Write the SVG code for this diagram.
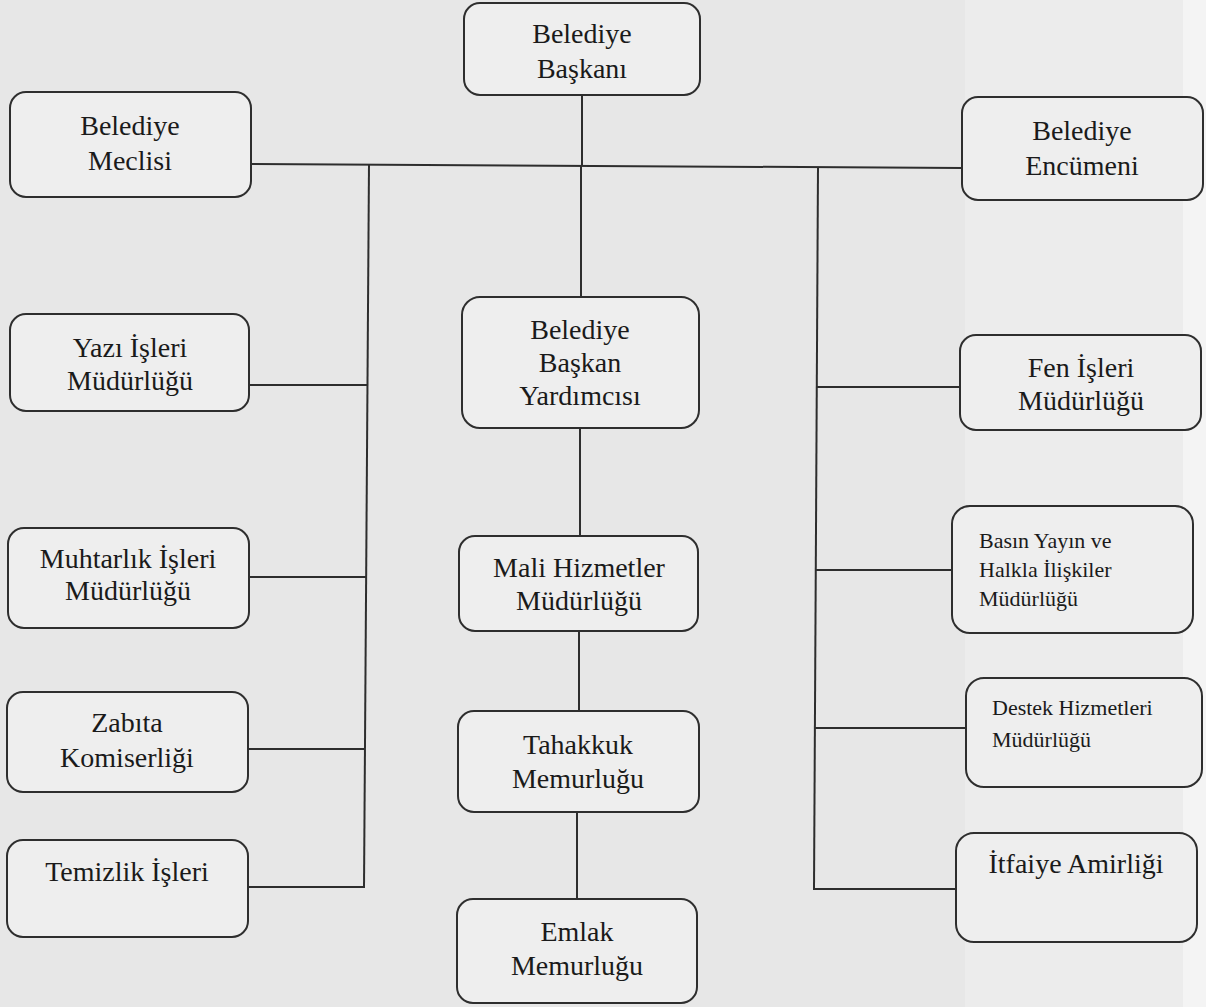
<svg xmlns="http://www.w3.org/2000/svg" width="1206" height="1007" viewBox="0 0 1206 1007">
<style>
.box{fill:#eeeeee;stroke:#2e2e2e;stroke-width:2}
.t{font-family:"Liberation Serif","Times New Roman",serif;font-size:28px;fill:#1a1a1a;text-anchor:middle}
.s{font-family:"Liberation Serif","Times New Roman",serif;font-size:22px;fill:#1a1a1a}
.c{stroke:#2e2e2e;stroke-width:2;fill:none}
</style>
<rect x="0" y="0" width="1206" height="1007" fill="#e7e7e7"/>
<rect x="965" y="0" width="218" height="1007" fill="#ececec"/>
<rect x="1183" y="0" width="23" height="1007" fill="#f4f4f4"/>
<g id="connectors">
<line class="c" x1="582" y1="95" x2="582" y2="166"/>
<line class="c" x1="251" y1="164" x2="962" y2="168"/>
<line class="c" x1="581" y1="166" x2="581" y2="297"/>
<line class="c" x1="369" y1="164" x2="364" y2="888"/>
<line class="c" x1="249" y1="385" x2="368" y2="385"/>
<line class="c" x1="249" y1="577" x2="367" y2="577"/>
<line class="c" x1="248" y1="749" x2="365" y2="749"/>
<line class="c" x1="248" y1="887" x2="365" y2="887"/>
<line class="c" x1="818" y1="167" x2="814" y2="890"/>
<line class="c" x1="817" y1="387" x2="960" y2="387"/>
<line class="c" x1="816" y1="570" x2="952" y2="570"/>
<line class="c" x1="815" y1="728" x2="966" y2="728"/>
<line class="c" x1="813" y1="889" x2="956" y2="889"/>
<line class="c" x1="580" y1="428" x2="580" y2="536"/>
<line class="c" x1="579" y1="631" x2="579" y2="711"/>
<line class="c" x1="577" y1="812" x2="577" y2="899"/>
</g>
<g id="baskan"><rect class="box" x="464" y="3" width="236" height="92" rx="16"/><text class="t" x="582" y="43">Belediye</text><text class="t" x="582" y="78">Başkanı</text></g>
<g id="meclis"><rect class="box" x="10" y="92" width="241" height="105" rx="16"/><text class="t" x="130" y="135">Belediye</text><text class="t" x="130" y="170">Meclisi</text></g>
<g id="encumen"><rect class="box" x="962" y="97" width="241" height="103" rx="16"/><text class="t" x="1082" y="140">Belediye</text><text class="t" x="1082" y="175">Encümeni</text></g>
<g id="yazi"><rect class="box" x="10" y="314" width="239" height="97" rx="16"/><text class="t" x="130" y="357">Yazı İşleri</text><text class="t" x="130" y="390">Müdürlüğü</text></g>
<g id="muhtarlik"><rect class="box" x="8" y="528" width="241" height="100" rx="16"/><text class="t" x="128" y="568">Muhtarlık İşleri</text><text class="t" x="128" y="600">Müdürlüğü</text></g>
<g id="zabita"><rect class="box" x="7" y="692" width="241" height="100" rx="16"/><text class="t" x="127" y="732">Zabıta</text><text class="t" x="127" y="767">Komiserliği</text></g>
<g id="temizlik"><rect class="box" x="7" y="840" width="241" height="97" rx="16"/><text class="t" x="127" y="881">Temizlik İşleri</text></g>
<g id="yardimci"><rect class="box" x="462" y="297" width="237" height="131" rx="18"/><text class="t" x="580" y="339">Belediye</text><text class="t" x="580" y="372">Başkan</text><text class="t" x="580" y="405">Yardımcısı</text></g>
<g id="mali"><rect class="box" x="459" y="536" width="239" height="95" rx="16"/><text class="t" x="579" y="577">Mali Hizmetler</text><text class="t" x="579" y="610">Müdürlüğü</text></g>
<g id="tahakkuk"><rect class="box" x="458" y="711" width="241" height="101" rx="16"/><text class="t" x="578" y="754">Tahakkuk</text><text class="t" x="578" y="788">Memurluğu</text></g>
<g id="emlak"><rect class="box" x="457" y="899" width="240" height="104" rx="16"/><text class="t" x="577" y="941">Emlak</text><text class="t" x="577" y="975">Memurluğu</text></g>
<g id="fen"><rect class="box" x="960" y="335" width="241" height="95" rx="16"/><text class="t" x="1081" y="377">Fen İşleri</text><text class="t" x="1081" y="410">Müdürlüğü</text></g>
<g id="basin"><rect class="box" x="952" y="506" width="241" height="127" rx="18"/><text class="s" x="979" y="548">Basın Yayın ve</text><text class="s" x="979" y="577">Halkla İlişkiler</text><text class="s" x="979" y="606">Müdürlüğü</text></g>
<g id="destek"><rect class="box" x="966" y="678" width="236" height="109" rx="18"/><text class="s" x="992" y="715" font-size="21">Destek Hizmetleri</text><text class="s" x="992" y="747">Müdürlüğü</text></g>
<g id="itfaiye"><rect class="box" x="956" y="833" width="241" height="109" rx="18"/><text class="t" x="1076" y="873">İtfaiye Amirliği</text></g>
</svg>
